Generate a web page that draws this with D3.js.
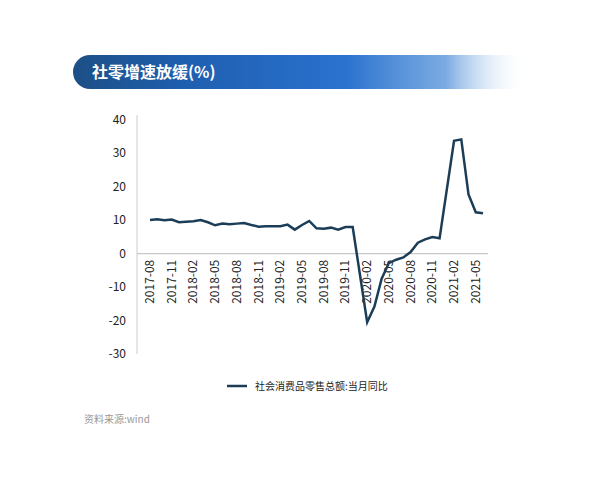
<!DOCTYPE html>
<html><head><meta charset="utf-8">
<script src="https://cdn.jsdelivr.net/npm/d3@7"></script>
<style>body{margin:0;background:#fff;font-family:"Noto Sans CJK SC","Noto Sans",sans-serif}</style>
</head><body><svg id="c" width="600" height="480"></svg>
<script>
const months = [];
for (let y = 2017, m = 8; !(y === 2021 && m === 7); ) { months.push(y + "-" + String(m).padStart(2, "0")); m++; if (m > 12) { m = 1; y++; } }
const values = [10.1,10.3,10.0,10.2,9.4,null,9.7,10.1,9.4,8.5,9.0,8.8,9.0,9.2,8.6,8.1,8.2,null,8.2,8.7,7.2,8.6,9.8,7.6,7.5,7.8,7.2,8.0,8.0,null,-20.5,-15.8,-7.5,-2.8,-1.8,-1.1,0.5,3.3,4.3,5.0,4.6,null,33.8,34.2,17.7,12.4,12.1];
const tickLabels = ["2017-08","2017-11","2018-02","2018-05","2018-08","2018-11","2019-02","2019-05","2019-08","2019-11","2020-02","2020-05","2020-08","2020-11","2021-02","2021-05"];
const yTicks = [40,30,20,10,0,-10,-20,-30];
const title = "社零增速放缓(%)";
const seriesName = "社会消费品零售总额:当月同比";
const source = "资料来源:wind";

const svg = d3.select("#c");
const defs = svg.append("defs");
const g = defs.append("linearGradient").attr("id","gr");
[["0%","#1d4f86",1],["25%","#1f5fb0",1],["60%","#2a72cf",1],["82%","#5a96da",0.8],["100%","#ffffff",0]].forEach(s=>g.append("stop").attr("offset",s[0]).attr("stop-color",s[1]).attr("stop-opacity",s[2]));
svg.append("rect").attr("x",73).attr("y",55).attr("width",455).attr("height",34).attr("rx",17).attr("fill","url(#gr)");
svg.append("text").attr("x",92).attr("y",78).attr("fill","#fff").attr("font-size",16).attr("font-weight","bold").text(title);

const x = d3.scalePoint().domain(months).range([150,483]);
const y = d3.scaleLinear().domain([-30,40]).range([354,120]);
svg.append("line").attr("x1",137).attr("x2",137).attr("y1",115).attr("y2",354).attr("stroke","#ccc");
svg.append("line").attr("x1",137).attr("x2",488).attr("y1",y(0)).attr("y2",y(0)).attr("stroke","#bbb");
yTicks.forEach(t=>svg.append("text").attr("x",126).attr("y",y(t)+4).attr("text-anchor","end").attr("font-size",12).attr("fill","#222").text(t));
tickLabels.forEach(l=>svg.append("text").attr("transform",`translate(${x(l)+4},${y(0)+6}) rotate(-90)`).attr("text-anchor","end").attr("font-size",12).attr("fill","#222").text(l));
const pts = values.map((v,i)=>[months[i],v]).filter(d=>d[1]!==null);
svg.append("path").datum(pts).attr("fill","none").attr("stroke","#1c3d57").attr("stroke-width",2.5)
 .attr("d",d3.line().x(d=>x(d[0])).y(d=>y(d[1])));
svg.append("line").attr("x1",227).attr("x2",247).attr("y1",386).attr("y2",386).attr("stroke","#1c3d57").attr("stroke-width",2.5);
svg.append("text").attr("x",255).attr("y",390).attr("font-size",10).attr("fill","#222").text(seriesName);
svg.append("text").attr("x",84).attr("y",423).attr("font-size",10).attr("fill","#999").text(source);
</script></body></html>
